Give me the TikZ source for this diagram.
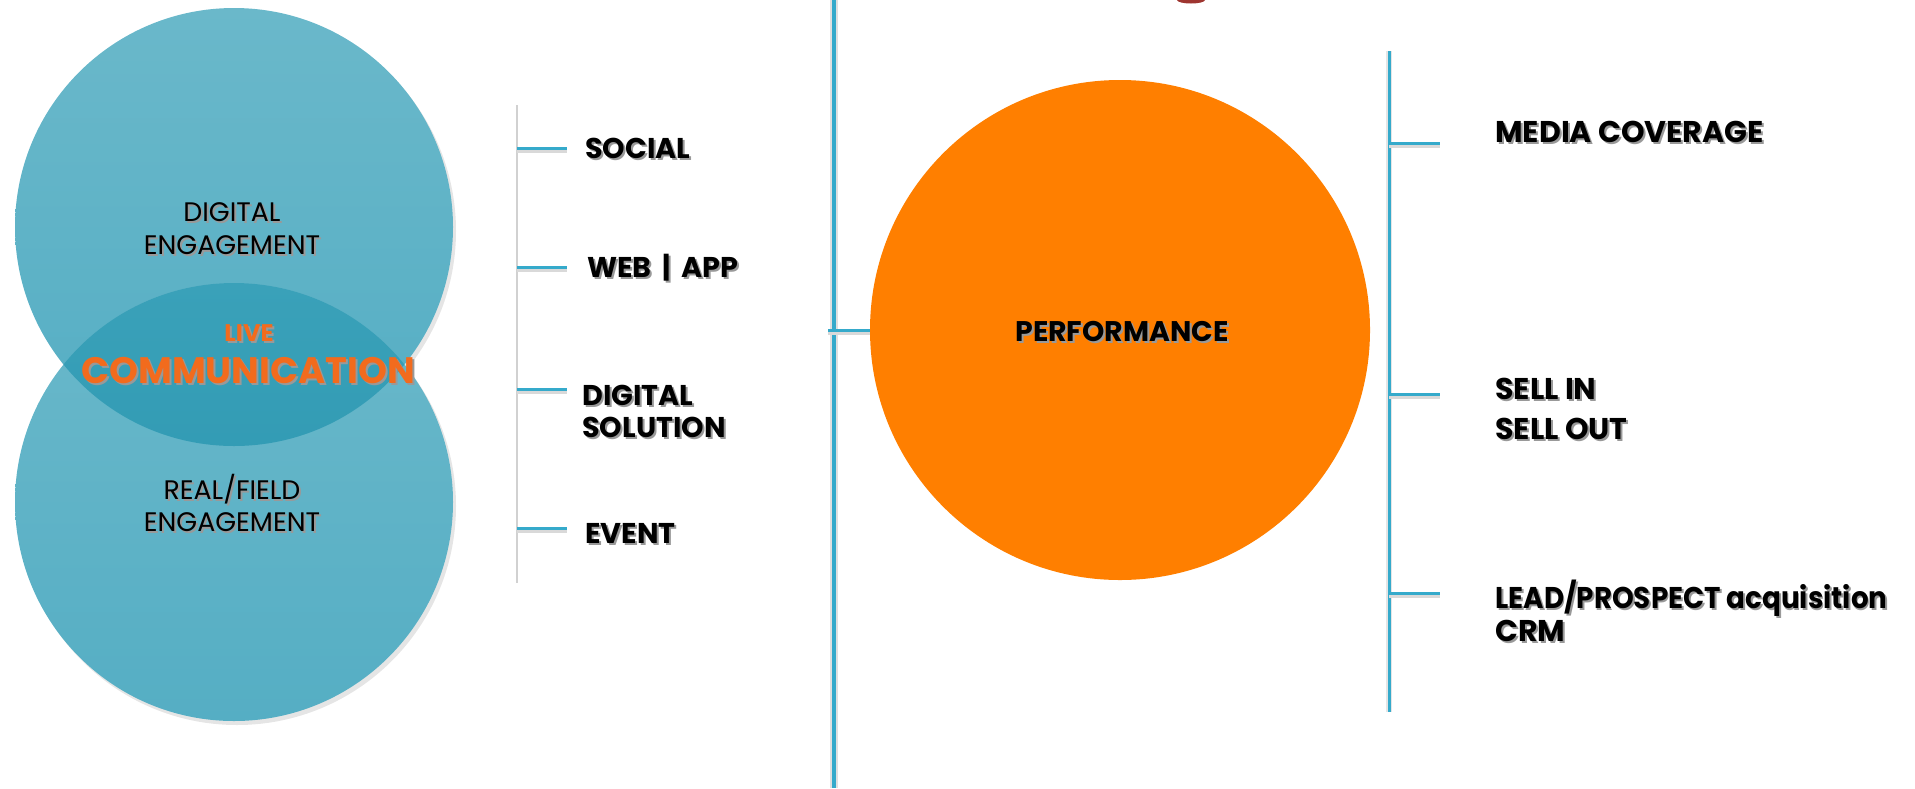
\documentclass[tikz,border=0pt]{standalone}
\usepackage{graphicx}
\usepackage{fontspec}
\setmainfont{Poppins}
\usetikzlibrary{calc}

\definecolor{venntop}{HTML}{6AB8CA}
\definecolor{vennbot}{HTML}{55AEC4}
\definecolor{lenstop}{HTML}{3AA1B9}
\definecolor{lensbot}{HTML}{2793AD}
\definecolor{rulecol}{HTML}{35AACB}
\definecolor{perfcol}{HTML}{FF7F00}
\definecolor{livecol}{HTML}{F26B1D}
\definecolor{accent}{HTML}{9E3530}

% text with a soft grey drop shadow
\newcommand\shadowtext[2][black]{%
  \makebox[0pt][l]{\kern1pt\raisebox{-1pt}{\textcolor{black!40}{#2}}}\textcolor{#1}{#2}}

\begin{document}
\begin{tikzpicture}[x=0.5pt, y=-0.5pt,
  itemtxt/.style={anchor=base west, inner sep=0pt, font=\fontsize{14.3}{16}\selectfont\bfseries},
  itemtxtr/.style={anchor=base west, inner sep=0pt, font=\fontsize{15}{17}\selectfont\bfseries},
  venntxt/.style={anchor=base, inner sep=0pt, font=\fontsize{13.4}{15}\selectfont},
  tickline/.style={draw=rulecol, line width=1.5pt,
    preaction={draw=black!15, line width=1.5pt, transform canvas={yshift=-1.5pt}}},
  halo/.style={draw=black!12, line width=4pt}]

\useasboundingbox (0,0) rectangle (1915,788);

% ---- Venn diagram: digital / real engagement ----
\fill[black, opacity=.10] (237,231) circle (219);
\fill[black, opacity=.10] (237,506) circle (219);
\shade[top color=venntop, bottom color=vennbot] (234,227) circle (219);
\shade[top color=venntop, bottom color=vennbot] (234,502) circle (219);
\begin{scope}
  \clip (234,227) circle (219);
  \shade[top color=lenstop, bottom color=lensbot] (234,502) circle (219);
\end{scope}

\node[venntxt] (dig1) at (232,221) {\shadowtext{DIGITAL}};
\node[venntxt] (dig2) at (232,254) {\shadowtext{ENGAGEMENT}};
\node[venntxt] (real1) at (232,499) {\shadowtext{REAL/FIELD}};
\node[venntxt] (real2) at (232,531) {\shadowtext{ENGAGEMENT}};
\node[anchor=base, inner sep=0pt, font=\fontsize{12}{14}\selectfont\bfseries] (live) at (249,341.5)
  {\shadowtext[livecol]{LIVE}};
\node[anchor=base, inner sep=0pt, font=\fontsize{18.4}{21}\selectfont\bfseries] (comm) at (248,383.5)
  {\shadowtext[livecol]{COMMUNICATION}};

% ---- left list ----
\draw[black!18, line width=1.2pt] (517,105) -- (517,583);
\foreach \n/\y in {1/148, 2/267, 3/389, 4/528} {
  \coordinate (l\n) at (517,\y);
  \coordinate (l\n e) at (567,\y);
}
\foreach \n in {1,...,4} \draw[tickline] (l\n) -- (l\n e);

\node[itemtxt] (social) at (585,158) {\shadowtext{SOCIAL}};
\node[itemtxt] (web) at (587,277) {\shadowtext{WEB \,|\, APP}};
\node[itemtxt] (dsol1) at (582,405) {\shadowtext{DIGITAL}};
\node[itemtxt] (dsol2) at (582,437) {\shadowtext{SOLUTION}};
\node[itemtxt] (event) at (585,543) {\shadowtext{EVENT}};

% ---- central divider ----
\coordinate (mtop) at (834,0);
\coordinate (mbot) at (834,788);
\draw[halo] (mtop) -- (mbot);
\draw[rulecol, line width=2pt] (mtop) -- (mbot);

\fill[accent] (1191,0) ellipse (14 and 3.5);

% ---- performance ----
\node[circle, fill=perfcol, minimum size=250pt, inner sep=0pt] (perfc) at (1120,330) {};
\node[inner sep=0pt, font=\fontsize{14.2}{16}\selectfont\bfseries] (perf) at (1122,332.5)
  {\shadowtext{PERFORMANCE}};
\coordinate (mt) at (828,330);
\draw[tickline] (mt) -- (perfc.west);

% ---- right list ----
\coordinate (rtop) at (1389,51);
\coordinate (rbot) at (1389,712);
\draw[black!10, line width=3pt] (rtop) -- (rbot);
\draw[rulecol, line width=1.5pt] (rtop) -- (rbot);
\foreach \n/\y in {1/143, 2/394, 3/593} {
  \coordinate (r\n) at (1389,\y);
  \coordinate (r\n e) at (1440,\y);
}
\foreach \n in {1,2,3} \draw[tickline] (r\n) -- (r\n e);

\node[itemtxtr] (media) at (1495,142) {\shadowtext{MEDIA COVERAGE}};
\node[itemtxtr] (sellin) at (1495,399) {\shadowtext{SELL IN}};
\node[itemtxtr] (sellout) at (1495,439) {\shadowtext{SELL OUT}};
\node[itemtxtr] (lead) at (1495,608)
  {\resizebox{196pt}{\height}{\shadowtext{LEAD/PROSPECT acquisition}}};
\node[itemtxtr] (crm) at (1495,641) {\shadowtext{CRM}};

\end{tikzpicture}
\end{document}
